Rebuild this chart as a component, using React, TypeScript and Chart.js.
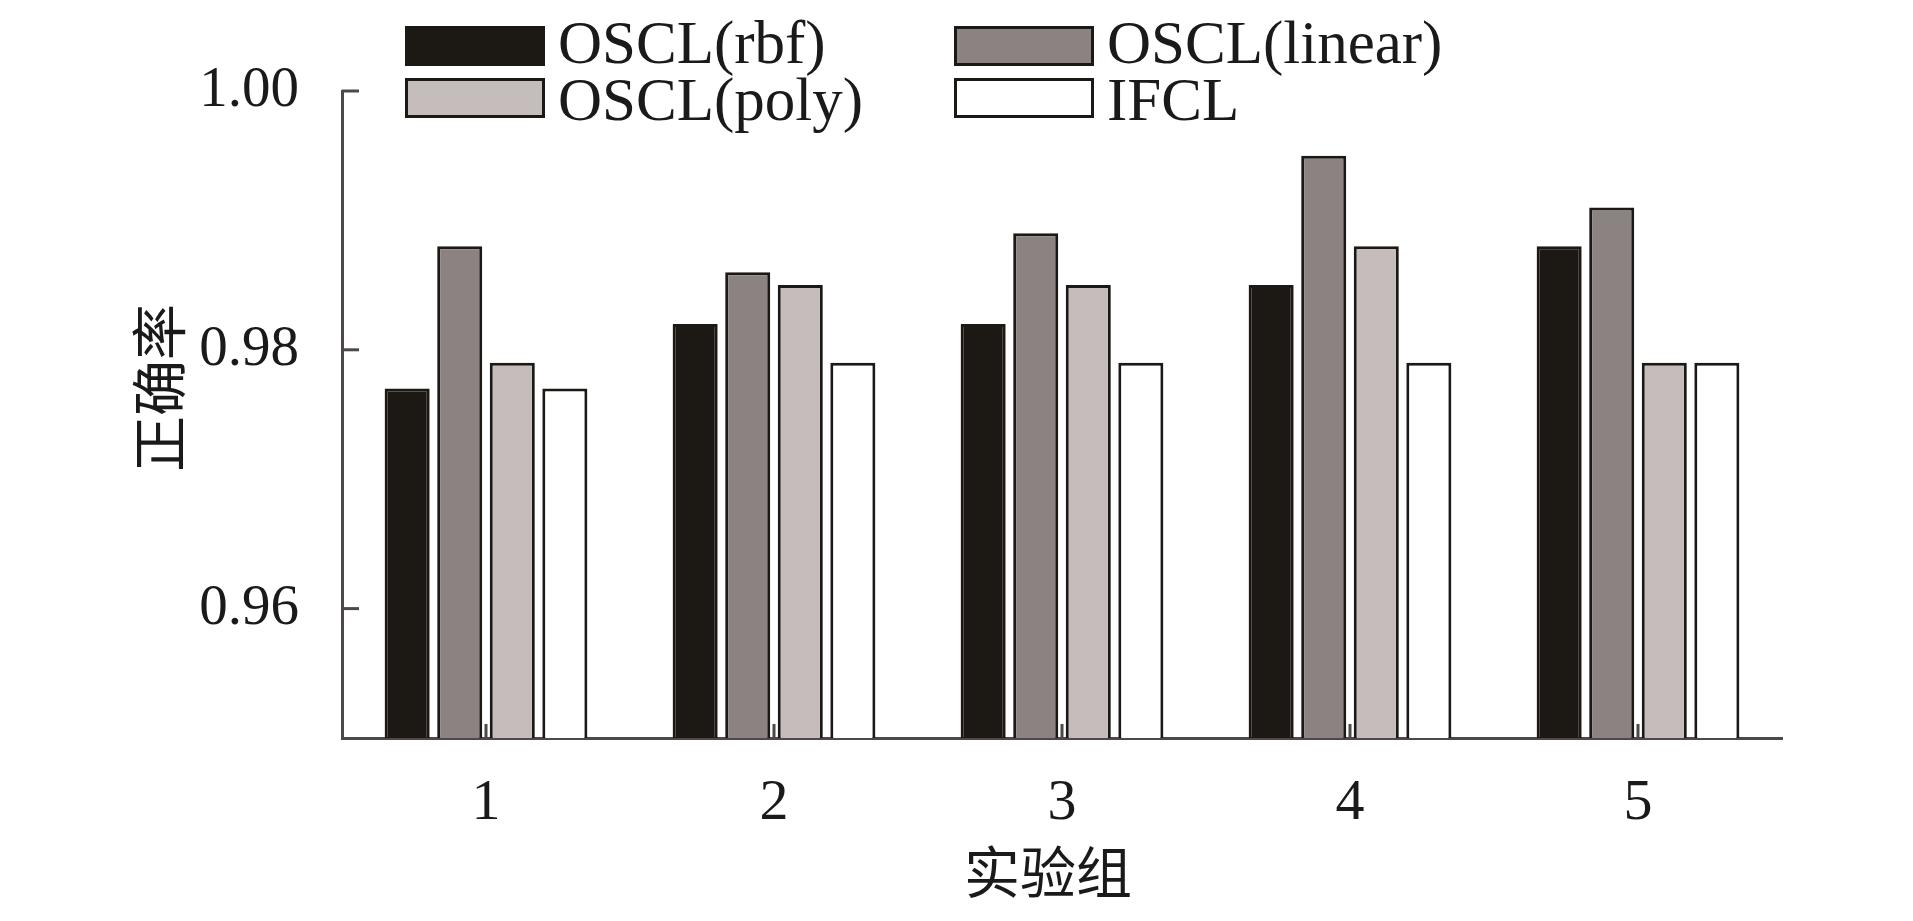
import React, { useEffect, useRef } from "react";
import { Chart, registerables } from "chart.js";

Chart.register(...registerables);

const categories = ["1", "2", "3", "4", "5"];
const seriesNames = ["OSCL(rbf)", "OSCL(linear)", "OSCL(poly)", "IFCL"];
const rbfValues = [0.977, 0.982, 0.982, 0.985, 0.988];
const linearValues = [0.988, 0.986, 0.989, 0.995, 0.991];
const polyValues = [0.979, 0.985, 0.985, 0.988, 0.979];
const ifclValues = [0.977, 0.979, 0.979, 0.979, 0.979];
const yTickValues = [0.96, 0.98, 1.0];
const xTitle = "实验组";
const yTitle = "正确率";

const fills = ["#1c1814", "#8b8381", "#c5bdbb", "#ffffff"];
const BORDER = "#1c1814";
const AXIS = "#4f4848";
const SERIF = "'Liberation Serif', 'Times New Roman', serif";
const CJK = "'Noto Sans CJK SC', sans-serif";

const decorPlugin = {
  id: "decor",
  afterDraw(chart: any) {
    const ctx = chart.ctx;
    const area = chart.chartArea;
    const xs = chart.scales.x;
    const ys = chart.scales.y;
    ctx.save();
    // inward tick marks
    ctx.strokeStyle = AXIS;
    ctx.lineWidth = 3;
    ys.ticks.forEach((t: any) => {
      const y = ys.getPixelForValue(t.value);
      ctx.beginPath();
      ctx.moveTo(area.left, y);
      ctx.lineTo(area.left + 17, y);
      ctx.stroke();
    });
    categories.forEach((_, i) => {
      const x = xs.getPixelForValue(i);
      ctx.beginPath();
      ctx.moveTo(x, area.bottom);
      ctx.lineTo(x, area.bottom - 14);
      ctx.stroke();
    });
    // axis titles
    ctx.fillStyle = "#1a1a1a";
    ctx.font = `56px ${CJK}`;
    ctx.textAlign = "center";
    ctx.textBaseline = "middle";
    ctx.fillText(xTitle, 1048, 872);
    ctx.save();
    ctx.translate(159, 388);
    ctx.rotate(-Math.PI / 2);
    ctx.fillText(yTitle, 0, 0);
    ctx.restore();
    // legend (2 x 2)
    const boxX = [405, 954];
    const boxY = [26, 78];
    const textBase = [63, 120];
    chart.data.datasets.forEach((ds: any, i: number) => {
      const col = i % 2;
      const row = Math.floor(i / 2);
      ctx.fillStyle = ds.backgroundColor;
      ctx.fillRect(boxX[col], boxY[row], 140, 40);
      ctx.strokeStyle = BORDER;
      ctx.lineWidth = 3;
      ctx.strokeRect(boxX[col] + 1.5, boxY[row] + 1.5, 137, 37);
      ctx.fillStyle = "#1a1a1a";
      ctx.font = `61px ${SERIF}`;
      ctx.textAlign = "left";
      ctx.textBaseline = "alphabetic";
      ctx.fillText(ds.label, boxX[col] + 153, textBase[row]);
    });
    ctx.restore();
  },
};

export default function App() {
  const ref = useRef<HTMLCanvasElement | null>(null);
  useEffect(() => {
    if (!ref.current) return;
    const seriesData = [rbfValues, linearValues, polyValues, ifclValues];
    const chart = new Chart(ref.current, {
      type: "bar",
      data: {
        labels: categories,
        datasets: seriesNames.map((name, i) => ({
          label: name,
          data: seriesData[i],
          backgroundColor: fills[i],
          borderColor: BORDER,
          borderWidth: 3,
          categoryPercentage: 0.73,
          barPercentage: 0.857,
        })),
      },
      options: {
        animation: false,
        responsive: false,
        devicePixelRatio: 1,
        layout: { padding: { top: 91, right: 131, left: 0, bottom: 0 } },
        plugins: {
          legend: { display: false },
          tooltip: { enabled: false },
        },
        scales: {
          x: {
            grid: { display: false },
            border: { display: true, color: AXIS, width: 3 },
            ticks: {
              font: { family: SERIF, size: 58 },
              color: "#1a1a1a",
              padding: 23,
            },
            afterFit: (s: any) => {
              s.height = 183;
            },
          },
          y: {
            min: 0.95,
            max: 1.0,
            grid: { display: false },
            border: { display: true, color: AXIS, width: 3 },
            afterBuildTicks: (s: any) => {
              s.ticks = yTickValues.map((v) => ({ value: v }));
            },
            ticks: {
              font: { family: SERIF, size: 57 },
              color: "#1a1a1a",
              padding: 35,
              callback: (v: any) => Number(v).toFixed(2),
            },
            afterFit: (s: any) => {
              s.width = 342;
            },
          },
        },
      },
      plugins: [decorPlugin],
    } as any);
    return () => chart.destroy();
  }, []);
  return (
    <div
      style={{
        position: "fixed",
        left: 0,
        top: 0,
        width: 1913,
        height: 921,
        background: "#ffffff",
      }}
    >
      <canvas ref={ref} width={1913} height={921} style={{ display: "block" }} />
    </div>
  );
}
